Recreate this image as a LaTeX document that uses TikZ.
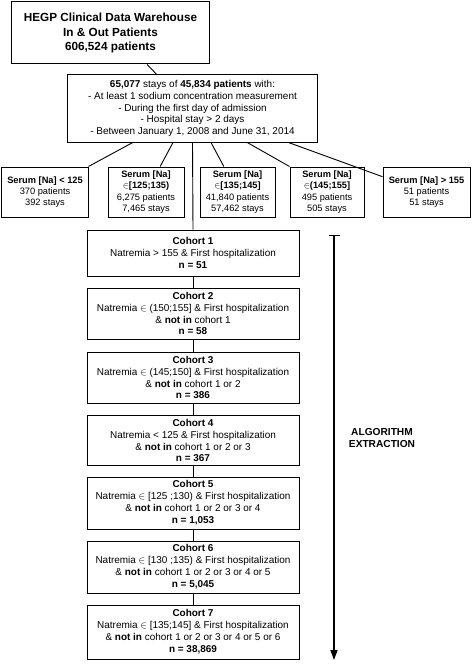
\documentclass[tikz,border=0pt]{standalone}
\usepackage{fontspec}
\setmainfont{Liberation Sans}
\usetikzlibrary{arrows.meta,calc}
\begin{document}
\begin{tikzpicture}[x=1bp,y=-1bp,
  box/.style={draw,line width=1bp,align=center,inner sep=0pt,anchor=center},
  topbox/.style={box,font=\fontsize{11.8}{15}\selectfont\bfseries},
  infobox/.style={box,font=\fontsize{10}{11.8}\selectfont},
  serum/.style={box,minimum width=#1,minimum height=50bp,font=\fontsize{9.3}{11.3}\selectfont},
  cohort/.style={box,minimum width=212bp,font=\fontsize{10}{12}\selectfont},
  conn/.style={line width=0.9bp},
  algo/.style={line width=1.4bp,{Bar[width=11bp,line width=1.4bp]}-{Triangle[width=7bp,length=10bp]}},
  lbl/.style={font=\fontsize{10.2}{12}\selectfont\bfseries,align=center}]
\useasboundingbox (0,0) rectangle (472,665);

\node[topbox,minimum width=197bp,minimum height=62bp] (hegp) at (110.5,33)
  {HEGP Clinical Data Warehouse\\In \& Out Patients\\606,524 patients};

\node[infobox,minimum width=249bp,minimum height=67bp] (info) at (192.5,108.5)
  {\textbf{65,077} stays of \textbf{45,834 patients} with:\\
   - At least 1 sodium concentration measurement\\
   - During the first day of admission\\
   - Hospital stay > 2 days\\
   - Between January 1, 2008 and June 31, 2014};

\node[serum=86bp] (s1) at (45,192) {\textbf{Serum [Na] < 125}\\370 patients\\392 stays};
\node[serum=76bp] (s2) at (146,192) {\textbf{Serum [Na]}\\$\in$\textbf{[125;135)}\\6,275 patients\\7,465 stays};
\node[serum=75bp] (s3) at (237.5,192) {\textbf{Serum [Na]}\\$\in$\textbf{[135;145]}\\41,840 patients\\57,462 stays};
\node[serum=74bp] (s4) at (327,192) {\textbf{Serum [Na]}\\$\in$\textbf{(145;155]}\\495 patients\\505 stays};
\node[serum=87bp] (s5) at (426.5,192) {\textbf{Serum [Na] > 155}\\51 patients\\51 stays};

\node[cohort,minimum height=46bp] (c1) at (193,253)
  {\textbf{Cohort 1}\\Natremia > 155 \& First hospitalization\\\textbf{n = 51}};
\node[cohort,minimum height=51bp] (c2) at (193,313.5)
  {\textbf{Cohort 2}\\Natremia $\in$ (150;155] \& First hospitalization\\\& \textbf{not in} cohort 1\\\textbf{n = 58}};
\node[cohort,minimum height=51bp] (c3) at (193,377.5)
  {\textbf{Cohort 3}\\Natremia $\in$ (145;150] \& First hospitalization\\\& \textbf{not in} cohort 1 or 2\\\textbf{n = 386}};
\node[cohort,minimum height=50bp] (c4) at (193,440.5)
  {\textbf{Cohort 4}\\Natremia < 125 \& First hospitalization\\\& \textbf{not in} cohort 1 or 2 or 3\\\textbf{n = 367}};
\node[cohort,minimum height=52bp] (c5) at (193,503)
  {\textbf{Cohort 5}\\Natremia $\in$ [125 ;130) \& First hospitalization\\\& \textbf{not in} cohort 1 or 2 or 3 or 4\\\textbf{n = 1,053}};
\node[cohort,minimum height=52bp] (c6) at (193,567)
  {\textbf{Cohort 6}\\Natremia $\in$ [130 ;135) \& First hospitalization\\\& \textbf{not in} cohort 1 or 2 or 3 or 4 or 5\\\textbf{n = 5,045}};
\node[cohort,minimum height=54bp] (c7) at (193,632)
  {\textbf{Cohort 7}\\Natremia $\in$ [135;145] \& First hospitalization\\\& \textbf{not in} cohort 1 or 2 or 3 or 4 or 5 or 6\\\textbf{n = 38,869}};

% connectors
\draw[conn] ($(hegp.south west)!0.685!(hegp.south east)$) -- ($(info.north west)!0.357!(info.north east)$);
\draw[conn] ($(info.south west)!0.261!(info.south east)$) -- (s1.north east);
\draw[conn] ($(info.south west)!0.422!(info.south east)$) -- ($(s2.north west)!0.684!(s2.north east)$);
\draw[conn] ($(info.south west)!0.574!(info.south east)$) -- ($(s3.north west)!0.32!(s3.north east)$);
\draw[conn] ($(info.south west)!0.719!(info.south east)$) -- (s4.north west);
\draw[conn] ($(info.south west)!0.884!(info.south east)$) -- ($(s5.north west)!0.2!(s5.south west)$);
\draw[conn] (info.south) -- (c1.north);
\draw[conn] (c1.south) -- (c2.north);
\draw[conn] (c2.south) -- (c3.north);
\draw[conn] (c3.south) -- (c4.north);
\draw[conn] (c4.south) -- (c5.north);
\draw[conn] (c5.south) -- (c6.north);
\draw[conn] (c6.south) -- (c7.north);

% algorithm arrow
\coordinate (atop) at (334,235);
\coordinate (abot) at (334,660);
\draw[algo] (atop) -- (abot);
\node[lbl] (alg) at (382,438) {ALGORITHM\\EXTRACTION};
\end{tikzpicture}
\end{document}
